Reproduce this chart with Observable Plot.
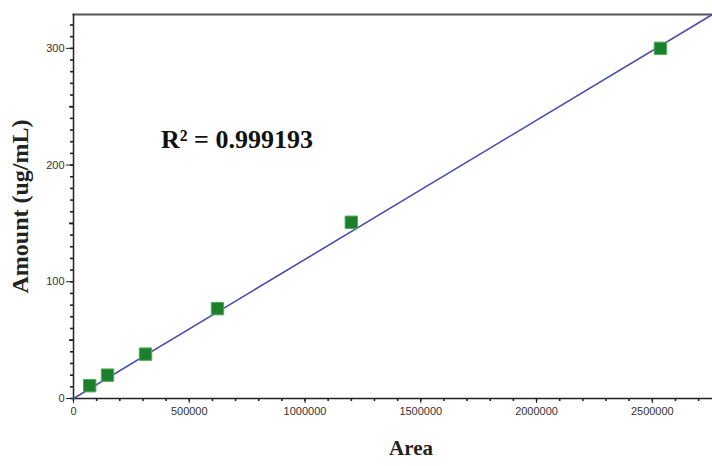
<!DOCTYPE html>
<html>
<head>
<meta charset="utf-8">
<script src="https://cdn.jsdelivr.net/npm/d3@7"></script>
<script src="https://cdn.jsdelivr.net/npm/@observablehq/plot@0.6"></script>
<style>
  html, body { margin: 0; padding: 0; background: #fff; }
  #chart svg { display: block; }
</style>
</head>
<body>
<div id="chart"></div>
<script>
// Calibration points
const areaValues = [70000, 147000, 311000, 622000, 1200000, 2535000];
const amountValues = [11, 20, 38, 77, 151, 300];
// Regression line endpoints
const fitArea = [0, 2760000];
const fitAmount = [0, 329];
// Tick values
const xMajorTicks = [0, 500000, 1000000, 1500000, 2000000, 2500000];
const xMinorTicks = d3.range(0, 2800000, 100000);
const yMajorTicks = [0, 100, 200, 300];
const yMidTicks = [50, 150, 250];
const yMinorTicks = d3.range(0, 330, 10);
// Annotation
const annotText = ["R² = 0.999193"];
const annotArea = [378000];
const annotAmount = [222];

const points = areaValues.map((a, i) => ({area: a, amount: amountValues[i]}));
const fit = fitArea.map((a, i) => ({area: a, amount: fitAmount[i]}));

const serif = "Liberation Serif, Times New Roman, serif";

const chart = Plot.plot({
  width: 712,
  height: 466,
  marginLeft: 73,
  marginRight: 0,
  marginTop: 14,
  marginBottom: 68,
  style: {background: "#fff", color: "#333", fontFamily: "Liberation Sans, Arial, sans-serif", fontSize: "11px"},
  x: {domain: [0, 2760000]},
  y: {domain: [0, 329]},
  marks: [
    // minor ticks
    Plot.axisX({ticks: xMinorTicks, tickSize: 3, text: null, stroke: "#222", strokeWidth: 1.6, label: null}),
    Plot.axisY({ticks: yMinorTicks, tickSize: 3, text: null, stroke: "#222", strokeWidth: 1.6, label: null}),
    Plot.axisY({ticks: yMidTicks, tickSize: 4, text: null, stroke: "#222", strokeWidth: 1.6, label: null}),
    // major ticks with labels
    Plot.axisX({ticks: xMajorTicks, tickSize: 5, tickPadding: 4, tickFormat: d => String(d), stroke: "#222", label: null, fill: "#333", fontSize: 11}),
    Plot.axisY({ticks: yMajorTicks, tickSize: 7, tickPadding: 2, tickFormat: d => String(d), stroke: "#222", label: null, fill: "#333", fontSize: 11}),
    // frame lines
    Plot.frame({anchor: "top", stroke: "#555", strokeWidth: 2}),
    Plot.frame({anchor: "left", stroke: "#222", strokeWidth: 1.5}),
    Plot.frame({anchor: "bottom", stroke: "#222", strokeWidth: 1.5}),
    // regression line
    Plot.line(fit, {x: "area", y: "amount", stroke: "#4b4fae", strokeWidth: 1.6}),
    // points
    Plot.dot(points, {x: "area", y: "amount", symbol: "square", r: 7, fill: "#1c7f2e", stroke: "#4cb04f", strokeWidth: 1}),
    // annotation
    Plot.text(annotText, {x: annotArea, y: annotAmount, text: d => d, textAnchor: "start", fontSize: 26, fontWeight: "bold", fontFamily: serif, fill: "#111"}),
    // axis titles
    Plot.text(["Area"], {frameAnchor: "bottom", textAnchor: "middle", dx: 18, dy: 56, text: d => d, fontSize: 21, fontWeight: "bold", fontFamily: serif, fill: "#222"}),
    Plot.text(["Amount (ug/mL)"], {frameAnchor: "left", textAnchor: "middle", dx: -53, rotate: -90, text: d => d, fontSize: 24, fontWeight: "bold", fontFamily: serif, fill: "#222"})
  ]
});
document.getElementById("chart").appendChild(chart);
</script>
</body>
</html>
